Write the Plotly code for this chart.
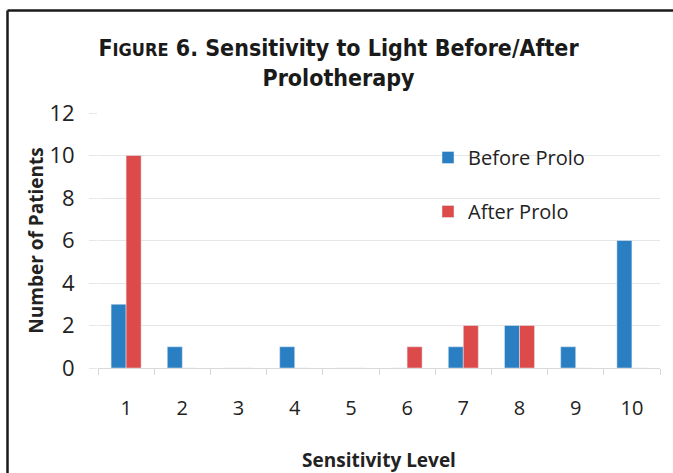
import plotly.graph_objects as go

levels = ["1", "2", "3", "4", "5", "6", "7", "8", "9", "10"]
before_prolo = [3, 1, 0, 1, 0, 0, 1, 2, 1, 6]
after_prolo = [10, 0, 0, 0, 0, 1, 2, 2, 0, 0]
y_ticks = [0, 2, 4, 6, 8, 10, 12]

BLUE = "#2a7fc2"
RED = "#dc4b49"
FONT = "Open Sans"
TITLE_FONT = "DejaVu Sans Condensed"

fig = go.Figure()
fig.add_trace(go.Bar(x=levels, y=before_prolo, name="Before Prolo", marker_color=BLUE,
                     legendgroup="a"))
fig.add_trace(go.Bar(x=levels, y=after_prolo, name="After Prolo", marker_color=RED,
                     legendgroup="b"))

L, R, T, B = 98, 13, 113, 105
W, H = 673, 473
pw, ph = W - L - R, H - T - B

def px_x(x):
    return (x - L) / pw

def px_y(y):
    return (H - B - y) / ph

fig.update_layout(
    width=W, height=H,
    margin=dict(l=L, r=R, t=T, b=B, pad=0),
    paper_bgcolor="white", plot_bgcolor="white",
    barmode="group", bargap=0.466, bargroupgap=0,
    font=dict(family=FONT, color="#222222", size=19),
    title=dict(
        text="<b>F<span style='font-size:18px'>IGURE</span> 6. Sensitivity to Light Before/After<br>Prolotherapy</b>",
        font=dict(family=TITLE_FONT, size=23, color="#1a1a1a"),
        x=0.503, xanchor="center", xref="container",
        y=1 - 56 / H, yanchor="top", yref="container",
    ),
    showlegend=True,
    legend=dict(
        x=px_x(428), xanchor="left", y=px_y(138), yanchor="top",
        bgcolor="rgba(0,0,0,0)", font=dict(size=20, family=FONT, color="#222"),
        traceorder="grouped", tracegroupgap=25, itemwidth=30,
    ),
    xaxis=dict(
        type="category", tickson="boundaries", ticks="outside", ticklen=6,
        tickcolor="#d9d9d9", showline=True, linecolor="#d9d9d9", linewidth=1,
        showgrid=False, ticklabelstandoff=22, automargin=False,
        tickfont=dict(size=20, family=FONT, color="#222"),
        title=dict(text="<b>Sensitivity Level</b>", font=dict(size=19, family=FONT, color="#222"),
                   standoff=36),
    ),
    yaxis=dict(
        range=[0, 12], tickvals=y_ticks, ticks="outside", ticklen=8,
        tickcolor="#e6e6e6", showgrid=True, gridcolor="#e6e6e6", gridwidth=1,
        zeroline=False, showline=False, ticklabelstandoff=10, automargin=False,
        tickfont=dict(size=22, family=FONT, color="#222"),
        title=dict(text="<b>Number of Patients</b>", font=dict(size=19, family=FONT, color="#222"),
                   standoff=0),
    ),
)

# frame lines (top and left) like the reference crop
fig.add_shape(type="line", xref="paper", yref="paper",
              x0=px_x(7.5), x1=px_x(673), y0=px_y(10.5), y1=px_y(10.5),
              line=dict(color="#1a1a1a", width=2.5))
fig.add_shape(type="line", xref="paper", yref="paper",
              x0=px_x(7.5), x1=px_x(7.5), y0=px_y(10.5), y1=px_y(473),
              line=dict(color="#1a1a1a", width=2.5))

fig.write_html("out.html", config={"displayModeBar": False},
               post_script="document.body.style.margin='0';")
